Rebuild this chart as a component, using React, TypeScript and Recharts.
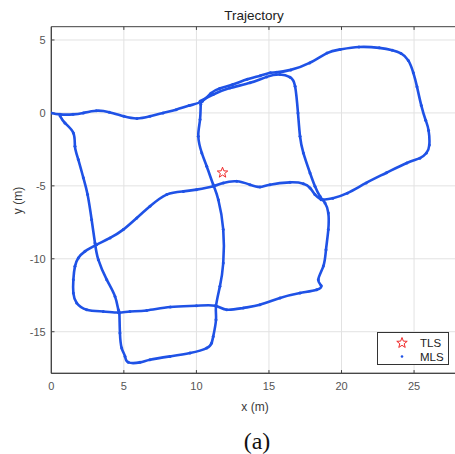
import React from "react";
import {
  ScatterChart,
  Scatter,
  XAxis,
  YAxis,
  CartesianGrid,
  ReferenceArea,
  ReferenceLine,
} from "recharts";

// ---- data ----
const xTicks = [0, 5, 10, 15, 20, 25];
const yTicks = [-15, -10, -5, 0, 5];
const xDomain = [0, 28];
const yDomain = [-17.85, 5.91];

const tls = [{ x: 11.8, y: -4.1 }];

// top line, upper band (upper lane) and large right loop
const mlsSeg1 = [
  { x: 0, y: 0 }, { x: 0.6, y: -0.1 }, { x: 1.5, y: -0.1 }, { x: 2.2, y: 0 },
  { x: 3.1, y: 0.15 }, { x: 4.0, y: 0.05 }, { x: 5.0, y: -0.23 }, { x: 5.9, y: -0.38 },
  { x: 6.8, y: -0.23 }, { x: 7.7, y: 0 }, { x: 8.6, y: 0.22 }, { x: 9.5, y: 0.5 },
  { x: 10.4, y: 0.8 }, { x: 11.0, y: 1.35 }, { x: 11.6, y: 1.68 }, { x: 12.5, y: 1.95 },
  { x: 13.5, y: 2.3 }, { x: 14.4, y: 2.55 }, { x: 15.1, y: 2.75 }, { x: 15.5, y: 2.78 },
  { x: 16.5, y: 2.95 }, { x: 17.8, y: 3.43 }, { x: 19.0, y: 4.1 }, { x: 19.9, y: 4.35 },
  { x: 21.2, y: 4.52 }, { x: 22.6, y: 4.46 }, { x: 23.5, y: 4.3 }, { x: 24.1, y: 4.08 },
  { x: 24.6, y: 3.6 }, { x: 24.95, y: 2.75 }, { x: 25.2, y: 1.8 }, { x: 25.5, y: 0.5 },
  { x: 25.8, y: -0.5 }, { x: 26.0, y: -1.2 }, { x: 26.05, y: -2.2 }, { x: 25.85, y: -2.75 },
  { x: 25.4, y: -3.1 }, { x: 24.5, y: -3.43 }, { x: 23.1, y: -4.1 }, { x: 21.7, y: -4.8 },
  { x: 20.4, y: -5.5 }, { x: 19.4, y: -5.85 }, { x: 18.75, y: -5.95 },
];

// upper band lower lane, right vertical, lower-right rect, lower-left loop, middle horizontal
const mlsSeg2 = [
  { x: 10.25, y: 0.8 }, { x: 11.16, y: 1.26 }, { x: 12.3, y: 1.7 }, { x: 13.7, y: 2.06 },
  { x: 14.84, y: 2.47 }, { x: 15.76, y: 2.63 }, { x: 16.45, y: 2.45 }, { x: 16.8, y: 1.83 },
  { x: 17.0, y: 0 }, { x: 17.14, y: -1.6 }, { x: 17.37, y: -2.74 }, { x: 17.83, y: -4.12 },
  { x: 18.17, y: -5.03 }, { x: 18.52, y: -5.72 }, { x: 18.86, y: -6.17 }, { x: 19.09, y: -6.86 },
  { x: 19.09, y: -8.0 }, { x: 18.93, y: -9.38 }, { x: 18.75, y: -10.5 }, { x: 18.4, y: -11.43 },
  { x: 18.6, y: -11.85 }, { x: 18.29, y: -12.12 }, { x: 17.14, y: -12.35 }, { x: 15.76, y: -12.69 },
  { x: 14.38, y: -13.15 }, { x: 13.23, y: -13.37 }, { x: 12.09, y: -13.49 }, { x: 11.3, y: -13.22 },
  { x: 10.0, y: -13.22 }, { x: 8.2, y: -13.31 }, { x: 6.57, y: -13.54 }, { x: 5.42, y: -13.61 },
  { x: 4.62, y: -13.68 }, { x: 3.58, y: -13.61 }, { x: 2.44, y: -13.49 }, { x: 1.75, y: -13.03 },
  { x: 1.52, y: -12.35 }, { x: 1.52, y: -11.43 }, { x: 1.63, y: -10.52 }, { x: 1.86, y: -9.95 },
  { x: 2.32, y: -9.49 }, { x: 3.13, y: -9.03 }, { x: 4.05, y: -8.57 }, { x: 4.96, y: -8.0 },
  { x: 5.89, y: -7.2 }, { x: 6.8, y: -6.4 }, { x: 7.95, y: -5.6 }, { x: 9.1, y: -5.38 },
  { x: 10.0, y: -5.26 }, { x: 11.16, y: -5.03 }, { x: 11.85, y: -4.8 }, { x: 12.78, y: -4.69 },
  { x: 13.69, y: -4.92 }, { x: 14.38, y: -5.08 }, { x: 15.07, y: -4.92 }, { x: 16.45, y: -4.76 },
  { x: 17.37, y: -4.85 }, { x: 17.83, y: -5.14 }, { x: 18.17, y: -5.6 }, { x: 18.6, y: -5.95 },
];

// left vertical, bottom square, middle vertical
const mlsSeg3 = [
  { x: 0.6, y: -0.2 }, { x: 0.94, y: -0.69 }, { x: 1.52, y: -1.37 }, { x: 1.63, y: -2.29 },
  { x: 1.86, y: -3.2 }, { x: 2.21, y: -4.45 }, { x: 2.5, y: -5.6 }, { x: 2.78, y: -7.32 },
  { x: 3.01, y: -8.92 }, { x: 3.24, y: -10.06 }, { x: 3.82, y: -11.43 }, { x: 4.39, y: -12.58 },
  { x: 4.62, y: -13.49 }, { x: 4.69, y: -13.72 }, { x: 4.73, y: -15.09 }, { x: 4.85, y: -16.12 },
  { x: 5.08, y: -16.69 }, { x: 5.31, y: -17.1 }, { x: 6.11, y: -17.1 }, { x: 6.8, y: -16.92 },
  { x: 8.18, y: -16.69 }, { x: 9.56, y: -16.46 }, { x: 10.71, y: -16.12 }, { x: 11.05, y: -15.77 },
  { x: 11.16, y: -15.32 }, { x: 11.35, y: -14.18 }, { x: 11.35, y: -13.26 }, { x: 11.62, y: -11.89 },
  { x: 11.85, y: -10.29 }, { x: 11.85, y: -8.0 }, { x: 11.51, y: -5.95 }, { x: 11.16, y: -4.92 },
  { x: 10.71, y: -3.66 }, { x: 10.37, y: -2.74 }, { x: 10.13, y: -1.6 }, { x: 10.25, y: -0.46 },
  { x: 10.3, y: 0.57 }, { x: 10.4, y: 0.8 },
];

const mlsSegments = [mlsSeg1, mlsSeg2, mlsSeg3];

// ---- styles ----
const BLUE = "#1f52e6";
const RED = "#f02828";
const AXIS = "#404040";
const SANS = "'Liberation Sans', Arial, Helvetica, sans-serif";
const TICK_LEN_X = 0.22;
const TICK_LEN_Y = 0.22;

const starPath = (cx: number, cy: number, R: number, r: number) => {
  let d = "";
  for (let i = 0; i < 10; i++) {
    const rad = i % 2 === 0 ? R : r;
    const a = -Math.PI / 2 + (i * Math.PI) / 5;
    d += (i === 0 ? "M" : "L") + (cx + rad * Math.cos(a)).toFixed(2) + "," + (cy + rad * Math.sin(a)).toFixed(2);
  }
  return d + "Z";
};

const Dot = (props: any) => {
  const { cx, cy } = props;
  if (cx == null || cy == null) return null;
  return <circle cx={cx} cy={cy} r={1.5} fill={BLUE} />;
};

const Star = (props: any) => {
  const { cx, cy } = props;
  if (cx == null || cy == null) return null;
  return <path d={starPath(cx, cy, 5.5, 2.3)} fill="none" stroke={RED} strokeWidth={1} />;
};

export default function App() {
  return (
    <div
      style={{
        position: "absolute",
        left: 0,
        top: 0,
        width: 455,
        height: 454,
        overflow: "hidden",
        background: "#fff",
      }}
    >
      <div style={{ position: "absolute", left: 0, top: 0 }}>
        <ScatterChart
          width={460}
          height={454}
          margin={{ top: 26.7, right: 2.4, bottom: 40.7, left: 0 }}
        >
          <CartesianGrid stroke="#e2e2e2" strokeWidth={1} horizontalValues={yTicks} verticalValues={xTicks} />
          <XAxis
            type="number"
            dataKey="x"
            domain={xDomain}
            ticks={xTicks}
            allowDataOverflow
            height={40}
            tickLine={false}
            tickSize={4}
            tickMargin={5}
            axisLine={{ stroke: AXIS }}
            tick={{ fill: "#555", fontSize: 11, fontFamily: SANS }}
          />
          <YAxis
            type="number"
            dataKey="y"
            domain={yDomain}
            ticks={yTicks}
            allowDataOverflow
            width={51.3}
            tickLine={false}
            tickSize={4}
            tickMargin={1.6}
            axisLine={{ stroke: AXIS }}
            tick={{ fill: "#555", fontSize: 11, fontFamily: SANS }}
          />
          <ReferenceArea
            x1={xDomain[0]}
            x2={xDomain[1]}
            y1={yDomain[0]}
            y2={yDomain[1]}
            fill="none"
            stroke={AXIS}
            strokeWidth={1}
            ifOverflow="visible"
          />
          {xTicks.filter((t) => t > xDomain[0]).map((t) => (
            <ReferenceLine
              key={"xb" + t}
              segment={[{ x: t, y: yDomain[0] }, { x: t, y: yDomain[0] + TICK_LEN_X }]}
              stroke={AXIS}
              ifOverflow="visible"
            />
          ))}
          {xTicks.filter((t) => t > xDomain[0]).map((t) => (
            <ReferenceLine
              key={"xt" + t}
              segment={[{ x: t, y: yDomain[1] }, { x: t, y: yDomain[1] - TICK_LEN_X }]}
              stroke={AXIS}
              ifOverflow="visible"
            />
          ))}
          {yTicks.map((t) => (
            <ReferenceLine
              key={"yl" + t}
              segment={[{ x: xDomain[0], y: t }, { x: xDomain[0] + TICK_LEN_Y, y: t }]}
              stroke={AXIS}
              ifOverflow="visible"
            />
          ))}
          {mlsSegments.map((seg, i) => (
            <Scatter
              key={i}
              name="MLS"
              data={seg}
              line={{ stroke: BLUE, strokeWidth: 2.6 }}
              lineJointType="natural"
              shape={<Dot />}
              isAnimationActive={false}
            />
          ))}
          <Scatter name="TLS" data={tls} shape={<Star />} isAnimationActive={false} />
        </ScatterChart>
      </div>

      {/* title */}
      <div
        style={{
          position: "absolute",
          left: 154,
          width: 200,
          top: 7,
          textAlign: "center",
          fontFamily: SANS,
          fontSize: 13.5,
          color: "#222",
          lineHeight: "18px",
        }}
      >
        Trajectory
      </div>

      {/* x label */}
      <div
        style={{
          position: "absolute",
          left: 205,
          width: 100,
          top: 399,
          textAlign: "center",
          fontFamily: SANS,
          fontSize: 12,
          color: "#3a3a3a",
          lineHeight: "17px",
        }}
      >
        x (m)
      </div>

      {/* y label */}
      <div
        style={{
          position: "absolute",
          left: 18.3 - 50,
          top: 200 - 8.5,
          width: 100,
          height: 17,
          textAlign: "center",
          fontFamily: SANS,
          fontSize: 12,
          color: "#3a3a3a",
          lineHeight: "17px",
          transform: "rotate(-90deg)",
        }}
      >
        y (m)
      </div>

      {/* legend */}
      <div
        style={{
          position: "absolute",
          left: 377,
          top: 332,
          width: 70,
          height: 31,
          border: "1px solid #333",
          background: "#fff",
          fontFamily: SANS,
          fontSize: 11.5,
          color: "#222",
        }}
      >
        <svg width={70} height={31} style={{ position: "absolute", left: 0, top: 0 }}>
          <path d={starPath(24, 10, 5.5, 2.3)} fill="none" stroke={RED} strokeWidth={1} />
          <circle cx={24} cy={23.5} r={1.3} fill={BLUE} />
          <text x={42} y={14.2} fontFamily={SANS} fontSize={11.5} fill="#222">TLS</text>
          <text x={42} y={27.5} fontFamily={SANS} fontSize={11.5} fill="#222">MLS</text>
        </svg>
      </div>

      {/* caption */}
      <div
        style={{
          position: "absolute",
          left: 157,
          width: 200,
          top: 427,
          textAlign: "center",
          fontFamily: "'Liberation Serif', 'Times New Roman', serif",
          fontSize: 24,
          color: "#111",
          lineHeight: "28px",
        }}
      >
        (a)
      </div>
    </div>
  );
}
